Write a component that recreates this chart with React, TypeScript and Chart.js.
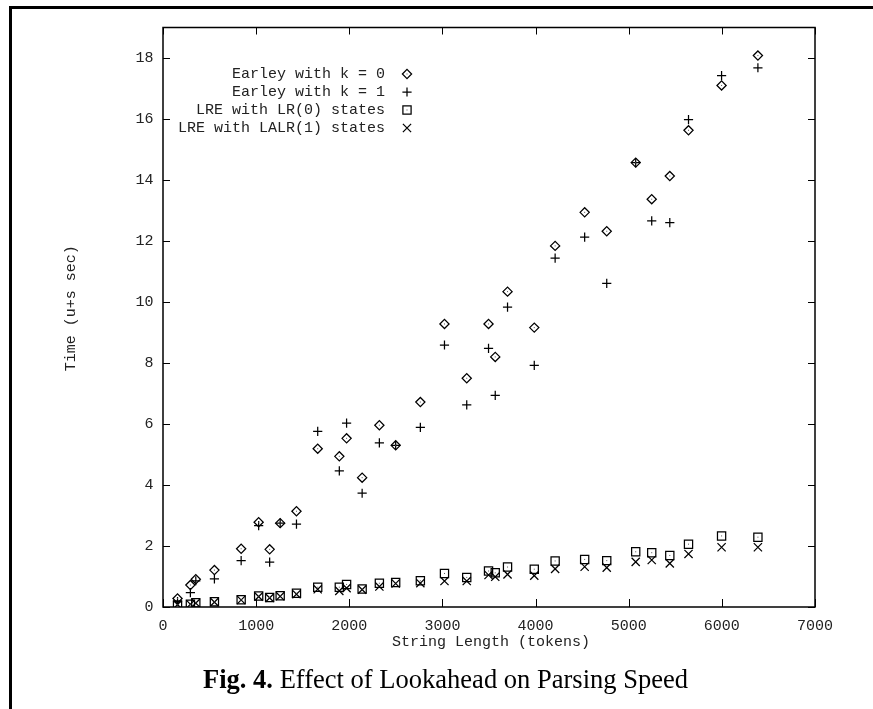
import React, { useEffect, useRef } from "react";
import { Chart, registerables } from "chart.js";

Chart.register(...registerables);

// ---- data ----
const tokens = [156, 294, 352, 552, 839, 1027, 1145, 1258, 1433, 1661, 1893, 1971, 2138, 2323, 2498, 2763, 3022, 3261, 3495, 3567, 3699, 3986, 4210, 4527, 4764, 5075, 5247, 5441, 5642, 5997, 6387];
const earleyK0 = [0.28, 0.72, 0.91, 1.21, 1.91, 2.78, 1.89, 2.75, 3.14, 5.19, 4.94, 5.53, 4.24, 5.96, 5.3, 6.72, 9.28, 7.5, 9.28, 8.2, 10.34, 9.16, 11.84, 12.94, 12.32, 14.57, 13.37, 14.13, 15.63, 17.1, 18.08];
const earleyK1 = [0.18, 0.47, 0.86, 0.92, 1.52, 2.67, 1.47, 2.75, 2.72, 5.76, 4.46, 6.03, 3.73, 5.38, 5.3, 5.89, 8.59, 6.63, 8.48, 6.94, 9.83, 7.92, 11.44, 12.13, 10.61, 14.57, 12.66, 12.6, 15.98, 17.42, 17.68];
const lreLR0 = [0.07, 0.09, 0.14, 0.17, 0.24, 0.36, 0.31, 0.37, 0.45, 0.65, 0.65, 0.74, 0.59, 0.78, 0.8, 0.86, 1.1, 0.97, 1.18, 1.12, 1.31, 1.24, 1.51, 1.56, 1.52, 1.81, 1.78, 1.69, 2.06, 2.33, 2.29];
const lreLALR1 = [0.08, 0.09, 0.13, 0.16, 0.23, 0.34, 0.3, 0.35, 0.42, 0.58, 0.53, 0.62, 0.57, 0.67, 0.77, 0.78, 0.85, 0.85, 1.05, 0.99, 1.07, 1.03, 1.25, 1.32, 1.29, 1.48, 1.54, 1.43, 1.74, 1.96, 1.96];

const seriesLabels = ["Earley with k = 0", "Earley with k = 1", "LRE with LR(0) states", "LRE with LALR(1) states"];
const seriesStyles = ["rectRot", "cross", "rect", "crossRot"];
const seriesRadius = [4.6, 4.6, 5.8, 5.8];
const seriesDots = [true, false, true, false];
const xMin = 0;
const xMax = 7000;
const xStep = 1000;
const yMin = 0;
const yMax = 19;
const yStep = 2;
const xTitle = "String Length (tokens)";
const yTitle = "Time (u+s sec)";
const captionBold = "Fig. 4.";
const captionRest = " Effect of Lookahead on Parsing Speed";

const MONO = "'Liberation Mono', 'DejaVu Sans Mono', monospace";
const SERIF = "'Liberation Serif', 'DejaVu Serif', serif";
const INK = "#000";
const MARK_W = 1.25;

function drawMarker(ctx: CanvasRenderingContext2D, style: string, r: number, x: number, y: number) {
  ctx.beginPath();
  if (style === "rectRot") {
    ctx.moveTo(x - r, y);
    ctx.lineTo(x, y - r);
    ctx.lineTo(x + r, y);
    ctx.lineTo(x, y + r);
    ctx.closePath();
  } else if (style === "cross") {
    ctx.moveTo(x, y - r);
    ctx.lineTo(x, y + r);
    ctx.moveTo(x - r, y);
    ctx.lineTo(x + r, y);
  } else if (style === "rect") {
    const s = Math.SQRT1_2 * r;
    ctx.rect(x - s, y - s, 2 * s, 2 * s);
  } else {
    const s = Math.SQRT1_2 * r;
    ctx.moveTo(x - s, y - s);
    ctx.lineTo(x + s, y + s);
    ctx.moveTo(x + s, y - s);
    ctx.lineTo(x - s, y + s);
  }
  ctx.stroke();
}

export default function App() {
  const ref = useRef<HTMLCanvasElement | null>(null);

  useEffect(() => {
    const canvas = ref.current;
    if (!canvas) return;
    const series = [earleyK0, earleyK1, lreLR0, lreLALR1];

    const decor = {
      id: "decor",
      beforeDraw(chart: any) {
        const ctx = chart.ctx;
        ctx.save();
        ctx.fillStyle = "#fff";
        ctx.fillRect(0, 0, chart.width, chart.height);
        ctx.restore();
      },
      afterDatasetsDraw(chart: any) {
        // gnuplot-style centre dots in diamonds and squares
        const ctx = chart.ctx as CanvasRenderingContext2D;
        ctx.save();
        ctx.fillStyle = "#555";
        chart.data.datasets.forEach((_d: any, i: number) => {
          if (!seriesDots[i]) return;
          chart.getDatasetMeta(i).data.forEach((el: any) => {
            ctx.fillRect(el.x - 0.5, el.y - 0.5, 1, 1);
          });
        });
        ctx.restore();
      },
      afterDraw(chart: any) {
        const ctx = chart.ctx as CanvasRenderingContext2D;
        const a = chart.chartArea;
        const xs = chart.scales.x;
        const ys = chart.scales.y;
        ctx.save();
        // page frame (top and left rules)
        ctx.fillStyle = "#000";
        ctx.fillRect(9, 6, chart.width - 9, 3);
        ctx.fillRect(9, 6, 3, chart.height - 6);
        // plot box
        ctx.strokeStyle = "#000";
        ctx.lineWidth = 1.5;
        ctx.strokeRect(a.left, a.top, a.right - a.left, a.bottom - a.top);
        // inward tick marks
        ctx.lineWidth = 1;
        ctx.beginPath();
        xs.ticks.forEach((t: any) => {
          const px = Math.round(xs.getPixelForValue(t.value)) + 0.5;
          ctx.moveTo(px, a.bottom);
          ctx.lineTo(px, a.bottom - 8);
          ctx.moveTo(px, a.top);
          ctx.lineTo(px, a.top + 7);
        });
        ys.ticks.forEach((t: any) => {
          const py = Math.round(ys.getPixelForValue(t.value)) + 0.5;
          ctx.moveTo(a.left, py);
          ctx.lineTo(a.left + 7, py);
          ctx.moveTo(a.right, py);
          ctx.lineTo(a.right - 7, py);
        });
        ctx.stroke();

        // axis titles
        ctx.fillStyle = "#222";
        ctx.font = `15px ${MONO}`;
        ctx.textAlign = "center";
        ctx.textBaseline = "middle";
        ctx.fillText(xTitle, (a.left + a.right) / 2 + 2, 642);
        ctx.save();
        ctx.translate(71, (a.top + a.bottom) / 2 - 9);
        ctx.rotate(-Math.PI / 2);
        ctx.fillText(yTitle, 0, 0);
        ctx.restore();

        // legend
        ctx.textAlign = "right";
        ctx.strokeStyle = INK;
        ctx.lineWidth = MARK_W;
        seriesLabels.forEach((label, i) => {
          const yy = 74 + i * 18;
          ctx.fillText(label, 385, yy);
          drawMarker(ctx, seriesStyles[i], seriesRadius[i], 407, yy);
          if (seriesDots[i]) {
            ctx.save();
            ctx.fillStyle = "#555";
            ctx.fillRect(406.5, yy - 0.5, 1, 1);
            ctx.restore();
          }
        });

        // caption
        const size = 27;
        ctx.fillStyle = "#000";
        ctx.textAlign = "left";
        ctx.textBaseline = "alphabetic";
        ctx.font = `bold ${size}px ${SERIF}`;
        const wB = ctx.measureText(captionBold).width;
        ctx.font = `${size}px ${SERIF}`;
        const wR = ctx.measureText(captionRest).width;
        const sx = 485 / (wB + wR);
        ctx.translate(203, 688);
        ctx.scale(sx, 1);
        ctx.font = `bold ${size}px ${SERIF}`;
        ctx.fillText(captionBold, 0, 0);
        ctx.font = `${size}px ${SERIF}`;
        ctx.fillText(captionRest, wB, 0);
        ctx.restore();
      },
    };

    const chart = new Chart(canvas, {
      type: "scatter",
      data: {
        datasets: series.map((vals, i) => ({
          label: seriesLabels[i],
          data: tokens.map((x, j) => ({ x, y: vals[j] })),
          pointStyle: seriesStyles[i] as any,
          pointRadius: seriesRadius[i],
          pointBorderWidth: MARK_W,
          pointBorderColor: INK,
          pointBackgroundColor: "rgba(0,0,0,0)",
          borderColor: INK,
          backgroundColor: "rgba(0,0,0,0)",
          showLine: false,
        })),
      },
      options: {
        responsive: false,
        animation: false,
        devicePixelRatio: 1,
        layout: { padding: { left: 0, right: 58, top: 27.5, bottom: 0 } },
        plugins: {
          legend: { display: false },
          tooltip: { enabled: false },
        },
        scales: {
          x: {
            type: "linear",
            min: xMin,
            max: xMax,
            ticks: {
              stepSize: xStep,
              includeBounds: false,
              font: { family: MONO, size: 15 },
              color: "#222",
              padding: 10,
              maxRotation: 0,
              callback: (v: any) => String(v),
            },
            grid: { display: false, drawTicks: false },
            border: { display: false },
            afterFit: (s: any) => {
              s.height = 102;
            },
          },
          y: {
            type: "linear",
            min: yMin,
            max: yMax,
            ticks: {
              stepSize: yStep,
              includeBounds: false,
              font: { family: MONO, size: 15 },
              color: "#222",
              padding: 9.5,
              callback: (v: any) => String(v),
            },
            grid: { display: false, drawTicks: false },
            border: { display: false },
            afterFit: (s: any) => {
              s.width = 163;
            },
          },
        },
      },
      plugins: [decor],
    });
    return () => chart.destroy();
  }, []);

  return (
    <canvas
      ref={ref}
      width={873}
      height={709}
      style={{ position: "absolute", left: 0, top: 0, display: "block" }}
    />
  );
}
